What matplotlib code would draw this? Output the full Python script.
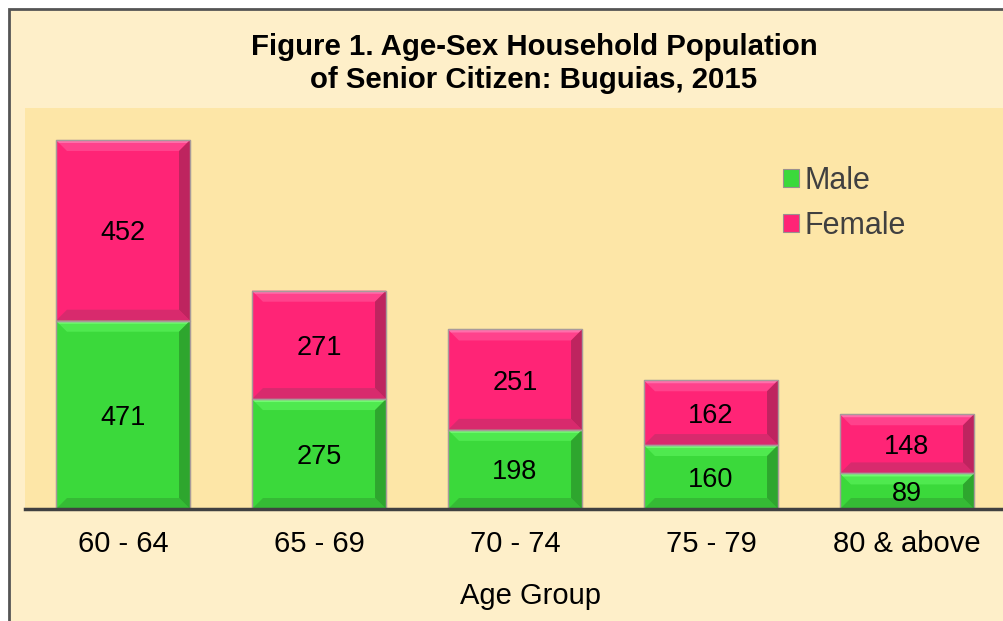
import matplotlib
matplotlib.use("Agg")
import matplotlib.pyplot as plt
from matplotlib.patches import Polygon, Rectangle
import numpy as np

# ---- data ----
categories = ["60 - 64", "65 - 69", "70 - 74", "75 - 79", "80 & above"]
male = [471, 275, 198, 160, 89]
female = [452, 271, 251, 162, 148]
series_names = ["Male", "Female"]
title = "Figure 1. Age-Sex Household Population\nof Senior Citizen: Buguias, 2015"
xlabel = "Age Group"

# ---- style ----
plt.rcParams['font.family'] = ['Liberation Sans', 'DejaVu Sans']
W, H = 1004, 621
DPI = 100
outer_bg = "#FEEFC9"
plot_bg = "#FDE6A7"
green = "#3BD93B"
pink = "#FF2476"
# (top highlight, top bevel, right bevel, bottom bevel)
bevel = {
    green: ("#7CFF7C", "#55EE55", "#2A962A", "#31A331"),
    pink: ("#FF7AB3", "#FF4A92", "#A92458", "#B83067"),
}

fig = plt.figure(figsize=(W / DPI, H / DPI), dpi=DPI)
fig.patch.set_facecolor("white")

# outer chart area with border (crop of a larger chart)
bg_ax = fig.add_axes([0, 0, 1, 1], zorder=-10)
bg_ax.set_xlim(0, W)
bg_ax.set_ylim(H, 0)
bg_ax.axis("off")
bg_ax.add_patch(Rectangle((9, 9), W + 50, H + 50, facecolor=outer_bg,
                          edgecolor="#555555", linewidth=2))

left, right = 25, 1005
top, bottom = 108, 509
ax = fig.add_axes([left / W, 1 - bottom / H, (right - left) / W, (bottom - top) / H], zorder=1)
ax.set_facecolor(plot_bg)

x = np.arange(len(categories))
width = 0.684
b1 = ax.bar(x, male, width, color=green, edgecolor="#9A8F8F", linewidth=0.8,
            label=series_names[0], zorder=2)
b2 = ax.bar(x, female, width, bottom=male, color=pink, edgecolor="#9A8F8F",
            linewidth=0.8, label=series_names[1], zorder=2)

ax.set_xlim(-0.5, len(categories) - 0.5)
ax.set_ylim(0, 1003)

# bevel decoration derived from each bar's geometry
px_x = (len(categories)) / (right - left)  # data units per pixel (x)
px_y = 1003 / (bottom - top)               # data units per pixel (y)
for cont, col in ((b1, green), (b2, pink)):
    hl, light, dark_r, dark_b = bevel[col]
    for r in cont:
        x0, y0 = r.get_x(), r.get_y()
        x1, y1 = x0 + r.get_width(), y0 + r.get_height()
        d = min(11, r.get_height() / px_y / 3.2)
        dx, dy = d * px_x, d * px_y
        h3x, h3y = 3 * px_x, 3 * px_y
        polys = [
            ([(x0, y1), (x1, y1), (x1 - dx, y1 - dy), (x0 + dx, y1 - dy)], light, 0.8),
            ([(x0, y1), (x1, y1), (x1 - h3x, y1 - h3y), (x0 + h3x, y1 - h3y)], hl, 0.8),
            ([(x1, y1), (x1, y0), (x1 - dx, y0 + dy), (x1 - dx, y1 - dy)], dark_r, 0.75),
            ([(x0, y0), (x1, y0), (x1 - dx, y0 + dy), (x0 + dx, y0 + dy)], dark_b, 0.55),
        ]
        for pts, c, a in polys:
            ax.add_patch(Polygon(pts, closed=True, facecolor=c, edgecolor="none",
                                 alpha=a, zorder=3))
        ax.add_patch(Rectangle((x0, y0), x1 - x0, y1 - y0, facecolor="none",
                               edgecolor="#A89A9A", linewidth=1.0, zorder=4))

# data labels
for cont, vals in ((b1, male), (b2, female)):
    for r, v in zip(cont, vals):
        ax.text(r.get_x() + r.get_width() / 2, r.get_y() + r.get_height() / 2, str(v),
                ha="center", va="center_baseline", fontsize=19.5, color="black", zorder=5)

for s in ["top", "right", "left"]:
    ax.spines[s].set_visible(False)
ax.spines["bottom"].set_color("#404040")
ax.spines["bottom"].set_linewidth(2.5)
ax.spines["bottom"].set_zorder(6)
ax.set_yticks([])
ax.set_xticks(x)
ax.set_xticklabels(categories, fontsize=21, color="black")
ax.tick_params(axis="x", length=0, pad=15)
ax.set_xlabel(xlabel, fontsize=21, color="black")
ax.xaxis.set_label_coords((531 - left) / (right - left), -(596 - bottom) / (bottom - top))
ax.xaxis.label.set_va("center")

fig.text(534 / W, 1 - 63.5 / H, title, ha="center", va="center", fontsize=21.2,
         fontweight="bold", color="black", linespacing=1.2)

leg = ax.legend(handles=[b1, b2], loc="upper left",
                bbox_to_anchor=(783 / W, 1 - 166 / H), bbox_transform=fig.transFigure,
                frameon=False, fontsize=22, handlelength=0.52, handleheight=0.52,
                handletextpad=0.2, labelspacing=0.49, borderaxespad=0, borderpad=0)
for t in leg.get_texts():
    t.set_color("#404040")

fig.savefig("out.png", dpi=DPI, facecolor=fig.get_facecolor())
